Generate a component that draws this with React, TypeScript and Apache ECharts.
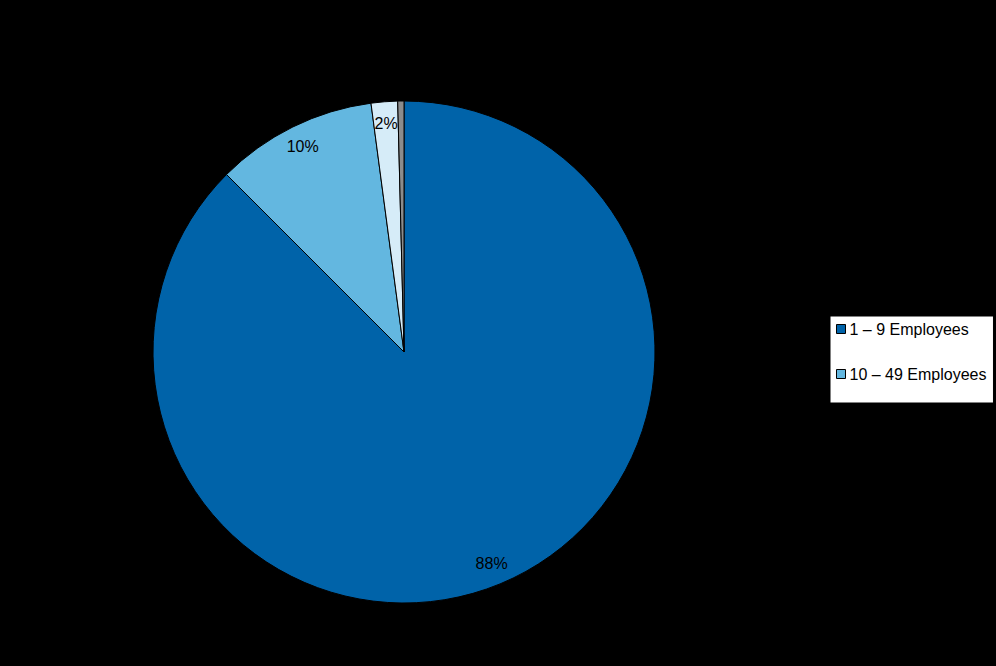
import React, { useEffect, useRef } from "react";
import * as echarts from "echarts";

const categories = ["1 – 9 Employees", "10 – 49 Employees", "50 – 249 Employees", "250+ Employees"];
const values = [87.5, 10.4, 1.7, 0.4];
const colors = ["#0063A9", "#63B7E0", "#D6ECF8", "#8C8C8C"];
const legendItems = ["1 – 9 Employees", "10 – 49 Employees"];

export default function App() {
  const ref = useRef<HTMLDivElement>(null);
  useEffect(() => {
    document.body.style.margin = "0";
    const chart = echarts.init(ref.current!, null, { renderer: "svg" });
    const data = categories.map((name, i) => ({
      name,
      value: values[i],
      itemStyle: { color: colors[i] },
    }));
    const R = 251;
    chart.setOption({
      animation: false,
      backgroundColor: "#000000",
      legend: {
        orient: "vertical",
        left: 830,
        top: 316,
        backgroundColor: "#ffffff",
        borderColor: "#000000",
        borderWidth: 1,
        borderRadius: 0,
        padding: [5, 7, 21, 6],
        itemGap: 29,
        itemWidth: 9,
        itemHeight: 9,
        icon: "rect",
        selectedMode: false,
        textStyle: { fontFamily: "Liberation Sans, Arial", fontSize: 16, color: "#000000", padding: [0, 0, 0, -1] },
        data: legendItems.map((name) => ({
          name,
          itemStyle: { color: colors[categories.indexOf(name)], borderColor: "#000000", borderWidth: 1 },
        })),
      },
      series: [
        {
          type: "pie",
          center: [404, 352],
          radius: [0, R],
          startAngle: 90,
          clockwise: true,
          data,
          label: { show: false },
          labelLine: { show: false },
          emphasis: { disabled: true },
          itemStyle: { borderColor: "#000000", borderWidth: 1 },
          silent: true,
        },
        {
          type: "pie",
          center: [404, 352],
          radius: [R * 0.8, R],
          startAngle: 90,
          clockwise: true,
          data: categories.map((name, i) => ({ name, value: values[i] })),
          itemStyle: { color: "rgba(0,0,0,0)", borderWidth: 0 },
          label: {
            show: true,
            position: "inside",
            fontFamily: "Liberation Sans, Arial",
            fontSize: 16,
            color: "#000000",
            formatter: (p: any) => (p.percent >= 1 ? Math.round(p.percent) + "%" : ""),
          },
          labelLine: { show: false },
          emphasis: { disabled: true },
          silent: true,
        },
      ],
    });
    return () => chart.dispose();
  }, []);
  return <div ref={ref} style={{ width: 996, height: 666 }} />;
}
